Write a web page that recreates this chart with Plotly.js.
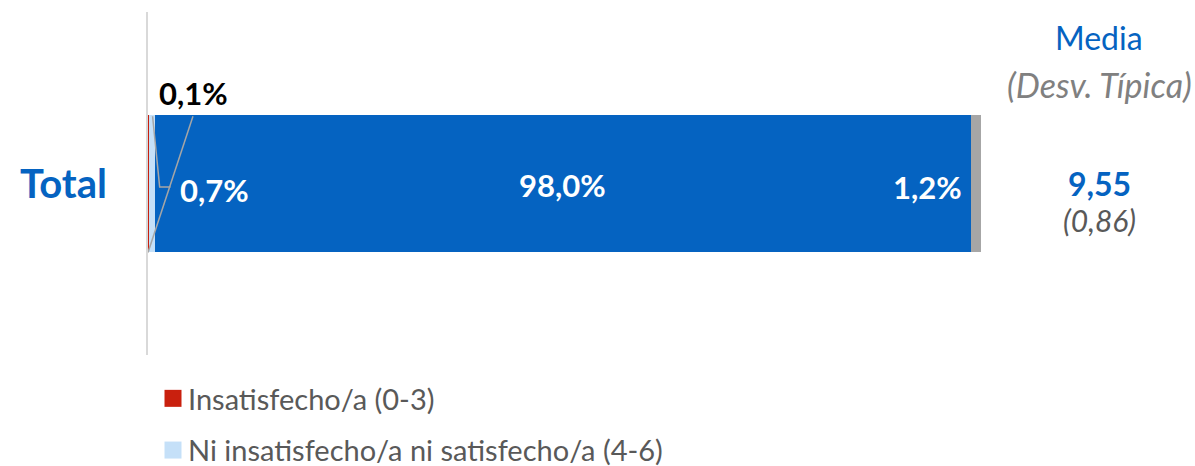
<!DOCTYPE html>
<html>
<head>
<meta charset="utf-8">
<script src="https://cdn.plot.ly/plotly-3.0.1.min.js"></script>
<style>html,body{margin:0;padding:0;background:#fff;}#chart{width:1195px;height:466px;}</style>
</head>
<body>
<div id="chart"></div>
<script>
const categories = ["Total"];
const seriesNames = ["Insatisfecho/a (0-3)", "Ni insatisfecho/a ni satisfecho/a (4-6)", "Satisfecho/a (7-10)", "NS/NC"];
const insatisfecho = [0.1];
const niNi = [0.7];
const satisfecho = [98.0];
const nsnc = [1.2];
const mediaValues = ["9,55"];
const desvValues = ["(0,86)"];
const colors = ["#C9200E", "#C5E0F8", "#0563C1", "#A6A6A6"];
const showInLegend = [true, true, false, false];

const seriesValues = [insatisfecho, niNi, satisfecho, nsnc];
const fmt = v => v.toFixed(1).replace('.', ',') + '%';

const traces = seriesValues.map((vals, i) => ({
  type: 'bar', orientation: 'h', y: categories, x: vals, name: seriesNames[i],
  marker: {color: colors[i], line: {width: 0}}, width: 0.402,
  showlegend: showInLegend[i], legendgroup: 'g' + i, hoverinfo: 'skip'
}));

const cum = [];
let acc = 0;
seriesValues.forEach(v => { cum.push(acc); acc += v[0]; });
const barTop = 0.201, barBot = -0.201;

const font = 'Lato, "Open Sans", sans-serif';
const colX = (1099 - 148) / 833;
const annotations = [
  {x: cum[0] + insatisfecho[0] / 2 + 5.4, y: 0.264, xref: 'x', yref: 'y', text: '<b>' + fmt(insatisfecho[0]) + '</b>', showarrow: false, xanchor: 'center', yanchor: 'middle', font: {family: font, size: 31, color: '#000000'}},
  {x: cum[1] + niNi[0] + 2.8, y: -0.02, xref: 'x', yref: 'y', text: '<b>' + fmt(niNi[0]) + '</b>', showarrow: false, xanchor: 'left', yanchor: 'middle', font: {family: font, size: 31, color: '#FFFFFF'}},
  {x: cum[2] + satisfecho[0] / 2, y: -0.005, xref: 'x', yref: 'y', text: '<b>' + fmt(satisfecho[0]) + '</b>', showarrow: false, xanchor: 'center', yanchor: 'middle', font: {family: font, size: 31, color: '#FFFFFF'}},
  {x: cum[3] - 0.8, y: -0.01, xref: 'x', yref: 'y', text: '<b>' + fmt(nsnc[0]) + '</b>', showarrow: false, xanchor: 'right', yanchor: 'middle', font: {family: font, size: 31, color: '#FFFFFF'}},
  {x: colX, y: 0.425, xref: 'paper', yref: 'y', text: 'Media', showarrow: false, xanchor: 'center', yanchor: 'middle', font: {family: font, size: 32, color: '#0563C1'}},
  {x: colX, y: 0.29, xref: 'paper', yref: 'y', text: '<i>(Desv. Típica)</i>', showarrow: false, xanchor: 'center', yanchor: 'middle', font: {family: font, size: 34, color: '#808080'}},
  {x: colX, y: -0.001, xref: 'paper', yref: 'y', text: '<b>' + mediaValues[0] + '</b>', showarrow: false, xanchor: 'center', yanchor: 'middle', font: {family: font, size: 32, color: '#0563C1'}},
  {x: colX, y: -0.106, xref: 'paper', yref: 'y', text: '<i>' + desvValues[0] + '</i>', showarrow: false, xanchor: 'center', yanchor: 'middle', font: {family: font, size: 30, color: '#595959'}}
];

const shapes = [
  {type: 'line', xref: 'x', yref: 'y', x0: cum[0], y0: barBot, x1: cum[0] + 5.4, y1: barTop - 0.005, line: {color: '#A6A6A6', width: 1.5}},
  {type: 'path', xref: 'x', yref: 'y', path: `M ${cum[1] + 0.45} ${barTop - 0.005} L ${cum[1] + 1.3} -0.01 L ${cum[1] + 2.6} -0.01`, line: {color: '#A6A6A6', width: 1.5}}
];

const layout = {
  width: 1195, height: 466,
  margin: {l: 148, r: 214, t: 12, b: 111, autoexpand: false},
  paper_bgcolor: '#FFFFFF', plot_bgcolor: '#FFFFFF',
  barmode: 'stack', bargap: 0,
  xaxis: {range: [0, 100], visible: false, fixedrange: true},
  yaxis: {type: 'category', range: [-0.5, 0.5], showline: true, linecolor: '#D9D9D9', linewidth: 2,
          showgrid: false, zeroline: false, ticks: '', ticklabelstandoff: 31,
          tickfont: {family: font, size: 40, color: '#0563C1', weight: 'bold'}, fixedrange: true},
  showlegend: true,
  legend: {x: 0, xanchor: 'left', yref: 'container', y: (466 - 373) / 466, yanchor: 'top', orientation: 'v', traceorder: 'grouped',
           tracegroupgap: 11, font: {family: font, size: 29, color: '#595959'}, bgcolor: 'rgba(0,0,0,0)'},
  annotations: annotations,
  shapes: shapes
};

Plotly.newPlot('chart', traces, layout, {staticPlot: true, displayModeBar: false}).then(gd => {
  gd.querySelectorAll('.legend .legendpoints path').forEach(p => {
    let bb;
    try { bb = p.getBBox(); } catch (e) { return; }
    const cx = bb.x + bb.width / 2 + 5;
    const cy = bb.y + bb.height / 2;
    const h = 8.5;
    p.setAttribute('d', `M${cx + h},${cy + h}H${cx - h}V${cy - h}H${cx + h}Z`);
  });
});
</script>
</body>
</html>
